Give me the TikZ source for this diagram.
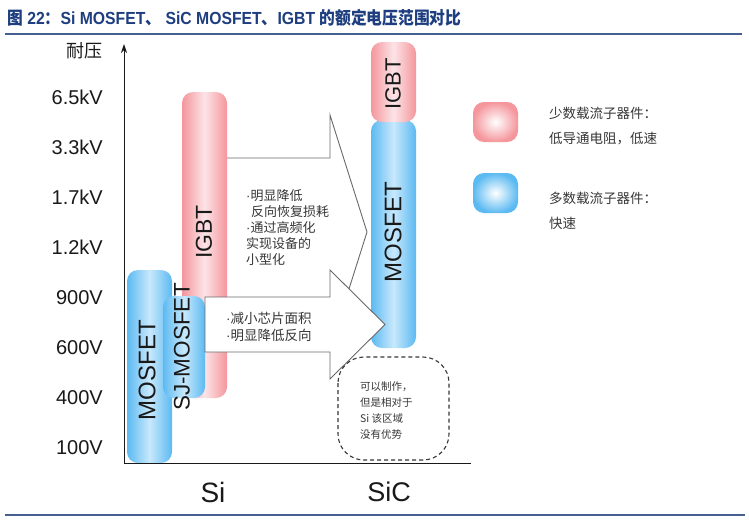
\documentclass[tikz,border=0pt]{standalone}
\usepackage{fontspec}
\setmainfont{Liberation Sans}
\newfontfamily\cjk{Noto Sans CJK SC}
\newfontfamily\latf{Liberation Sans}
\usetikzlibrary{arrows.meta,shadings}
\definecolor{titleblue}{RGB}{30,62,128}
\definecolor{ruleblue}{RGB}{70,95,145}
\definecolor{pinkE}{RGB}{244,150,156}
\definecolor{pinkM}{RGB}{252,228,231}
\definecolor{blueE}{RGB}{92,186,242}
\definecolor{blueM}{RGB}{200,232,252}
\definecolor{arrowgray}{RGB}{105,105,105}
\definecolor{txtgray}{RGB}{55,55,55}
\definecolor{lblack}{RGB}{25,25,25}
\begin{document}
\begin{tikzpicture}[x=1pt,y=-1pt,
  pinkbar/.style={rounded corners=11pt, left color=pinkE, right color=pinkE, middle color=pinkM},
  bluebar/.style={rounded corners=11pt, left color=blueE, right color=blueE, middle color=blueM},
  bigarrow/.style={draw=arrowgray, fill=white, line width=0.9pt, line join=miter},
  ylab/.style={anchor=east, inner sep=0, text=lblack, font=\fontsize{20}{22}\selectfont},
  barlab/.style={rotate=90, inner sep=0, text=lblack},
  cjktxt/.style={anchor=north west, inner sep=0, align=left, text=txtgray},
  axisline/.style={line width=1pt, draw=lblack},
]
\useasboundingbox (0,0) rectangle (749,520);
\fill[white] (0,0) rectangle (749,520);

% title and rules
\node[anchor=west, text=titleblue, inner sep=0, xscale=0.9,
      font=\bfseries\fontsize{17.5}{20}\selectfont] (title) at (7,18)
  {{\cjk 图} 22{\cjk ：}Si MOSFET{\cjk 、} SiC MOSFET{\cjk 、}IGBT {\cjk 的额定电压范围对比}};
\coordinate (r1a) at (5,34); \coordinate (r1b) at (742,34);
\coordinate (r2a) at (5,515); \coordinate (r2b) at (745,515);
\draw[ruleblue, line width=1.3pt] (r1a) -- (r1b);
\draw[ruleblue, line width=1.3pt] (r2a) -- (r2b);

% upper arrow
\draw[bigarrow] (220,158) -- (330,158) -- (330,115) -- (367,232) -- (330,349) -- (330,306) -- (220,306) -- cycle;

% Si bars
\path[pinkbar] (182,92) rectangle (227,398);
\path[bluebar] (127,270) rectangle (172,463);
\path[bluebar] (163,296) rectangle (205,398);

% SiC bars
\path[bluebar] (371,120) rectangle (416,348);
\path[pinkbar] (371,42) rectangle (416,122);

% lower arrow
\draw[bigarrow] (205,297) -- (330,297) -- (330,270) -- (385,324.5) -- (330,379) -- (330,352) -- (205,352) -- cycle;

% bar labels
\node[barlab, font=\fontsize{23}{25}\selectfont] (sigbt) at (204,232) {IGBT};
\node[barlab, font=\fontsize{24}{26}\selectfont] (simos) at (147,370) {MOSFET};
\node[barlab, font=\fontsize{22.5}{25}\selectfont] (sjmos) at (182,347) {SJ-MOSFET};
\node[barlab, font=\fontsize{22}{24}\selectfont] (sicigbt) at (393,84) {IGBT};
\node[barlab, font=\fontsize{24}{26}\selectfont] (sicmos) at (393,232) {MOSFET};

% arrow texts
\node[cjktxt, font=\cjk\fontsize{13}{16}\selectfont] (t1) at (246,189)
  {{\latf·}明显降低\\\hspace*{5pt}反向恢复损耗\\{\latf·}通过高频化\\实现设备的\\小型化};
\node[cjktxt, font=\cjk\fontsize{13.5}{17}\selectfont] (t2) at (226,312)
  {{\latf·}减小芯片面积\\{\latf·}明显降低反向};

% dashed region
\draw[dashed, dash pattern=on 4pt off 3pt, draw=txtgray, line width=1.1pt, rounded corners=26pt] (338,357) rectangle (449,460);
\node[cjktxt, font=\cjk\fontsize{10.5}{16}\selectfont] (t3) at (360,382)
  {可以制作，\\但是相对于\\Si 该区域\\没有优势};

% legend
\path[rounded corners=11pt, shading=radial, inner color=white, outer color=pinkE] (473,102) rectangle (518,142);
\path[rounded corners=11pt, shading=radial, inner color=white, outer color=blueE] (473,173) rectangle (518,213);
\node[cjktxt, font=\cjk\fontsize{13.5}{25}\selectfont] (l1) at (549,107)
  {少数载流子器件：\\低导通电阻，低速};
\node[cjktxt, font=\cjk\fontsize{13.5}{25}\selectfont] (l2) at (549,192)
  {多数载流子器件：\\快速};

% axes
\coordinate (origin) at (124,463);
\coordinate (ytop) at (124,44);
\coordinate (xend) at (471,463);
\draw[axisline, -{Stealth[length=9pt,width=6pt]}] (origin) -- (ytop);
\draw[axisline] (origin) -- (xend);

% y labels
\node[anchor=east, inner sep=0, text=lblack, font=\cjk\fontsize{18}{20}\selectfont] (yname) at (103,51) {耐压};
\node[ylab] (y1) at (103,97.5) {6.5kV};
\node[ylab] (y2) at (103,147.5) {3.3kV};
\node[ylab] (y3) at (103,197.5) {1.7kV};
\node[ylab] (y4) at (103,247.5) {1.2kV};
\node[ylab] (y5) at (103,297.5) {900V};
\node[ylab] (y6) at (103,347.5) {600V};
\node[ylab] (y7) at (103,397.5) {400V};
\node[ylab] (y8) at (103,447.5) {100V};

% x labels
\node[inner sep=0, text=lblack, font=\fontsize{28}{30}\selectfont] (xsi) at (213,492) {Si};
\node[inner sep=0, text=lblack, font=\fontsize{27}{30}\selectfont] (xsic) at (389,492) {SiC};
\end{tikzpicture}
\end{document}
